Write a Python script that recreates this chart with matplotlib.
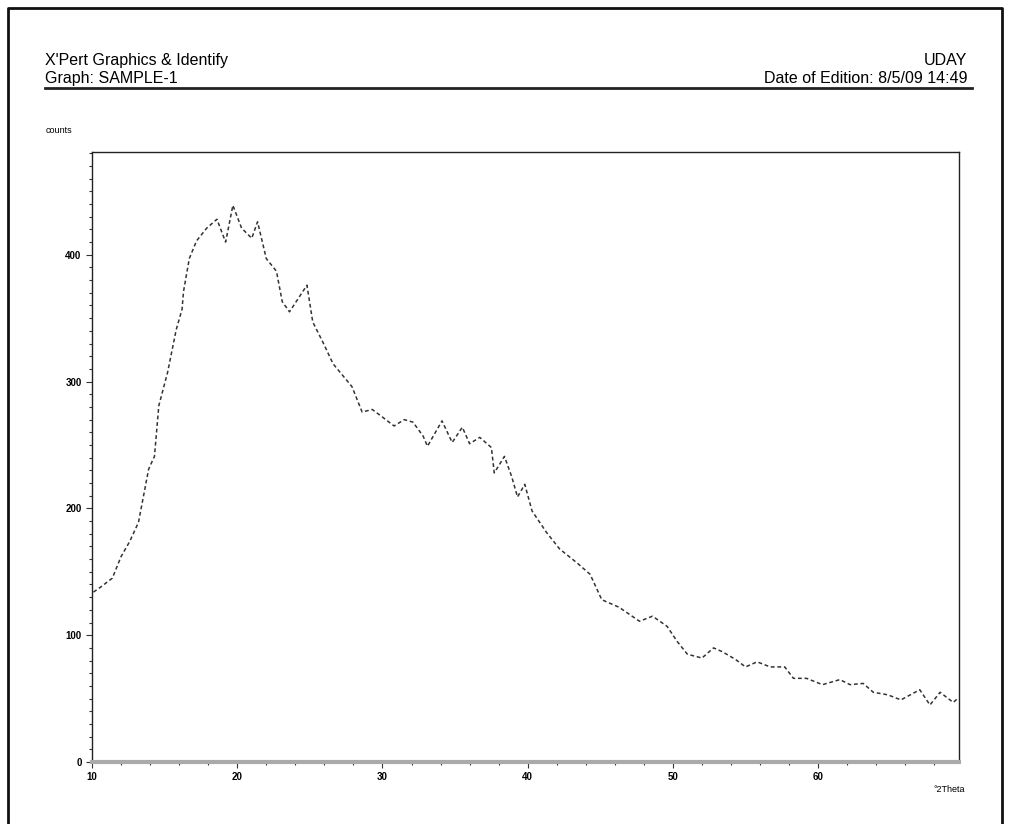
import numpy as np
import matplotlib.pyplot as plt
from matplotlib.lines import Line2D
from matplotlib.ticker import MultipleLocator

plt.rcParams['font.family'] = ['Liberation Sans', 'DejaVu Sans']

two_theta = [10.1, 10.6, 11.4, 12.0, 12.6, 13.2, 13.6, 13.9, 14.3, 14.6, 15.2,
             15.8, 16.2, 16.3, 16.7, 17.2, 17.9, 18.6, 19.2, 19.7, 20.3, 21.0,
             21.4, 22.0, 22.7, 23.1, 23.6, 24.8, 25.2, 25.9, 26.6, 27.9, 28.6,
             29.3, 30.0, 30.8, 31.5, 32.1, 32.8, 33.1, 34.1, 34.8, 35.5, 36.0,
             36.7, 37.5, 37.7, 38.4, 38.9, 39.3, 39.8, 40.3, 41.3, 42.2, 43.4,
             44.3, 45.1, 46.3, 47.7, 48.6, 49.6, 50.3, 51.0, 52.0, 52.8, 53.4,
             54.3, 55.0, 55.8, 56.7, 57.7, 58.3, 59.2, 60.3, 61.5, 62.2, 63.1,
             63.8, 64.8, 65.7, 67.0, 67.7, 68.4, 69.3, 69.6]
counts = [134, 138, 145, 162, 174, 189, 213, 231, 241, 281, 307,
          341, 357, 371, 397, 411, 421, 428, 410, 439, 421, 413,
          426, 397, 387, 363, 355, 376, 347, 331, 314, 296, 276,
          278, 272, 265, 270, 268, 257, 249, 269, 252, 264, 251,
          256, 248, 228, 241, 225, 209, 219, 198, 181, 168, 157,
          148, 128, 122, 111, 115, 107, 95, 85, 82, 90, 87,
          81, 75, 79, 75, 75, 66, 66, 61, 65, 61, 62,
          55, 53, 49, 57, 45, 55, 47, 50]

x_labels = [10, 20, 30, 40, 50, 60]
y_labels = [0, 100, 200, 300, 400]

fig = plt.figure(figsize=(10.10, 8.24), dpi=100)
ax = fig.add_axes([0.0911, 0.0752, 0.8584, 0.7403])

ax.plot(two_theta, counts, color='#333333', lw=1.1, ls=(0, (2.5, 1.8)))

ax.set_xlim(10, 69.7)
ax.set_ylim(0, 481)
ax.set_xticks(x_labels)
ax.set_yticks(y_labels)
ax.xaxis.set_minor_locator(MultipleLocator(2))
ax.yaxis.set_minor_locator(MultipleLocator(10))
ax.tick_params(which='both', direction='out', labelsize=7, width=0.8, color='#333333')
ax.tick_params(which='major', length=4)
ax.tick_params(which='minor', length=2.5)
for lbl in ax.get_xticklabels() + ax.get_yticklabels():
    lbl.set_fontweight('bold')
for s in ['left', 'top', 'right']:
    ax.spines[s].set_linewidth(1.0)
    ax.spines[s].set_color('#222222')
ax.spines['bottom'].set_linewidth(3)
ax.spines['bottom'].set_color('#aaaaaa')

# cabeçalho
fig.text(0.045, 0.918, "X'Pert Graphics & Identify", fontsize=11.5, ha='left', va='bottom')
fig.text(0.045, 0.896, "Graph: SAMPLE-1", fontsize=11.5, ha='left', va='bottom')
fig.text(0.958, 0.918, "UDAY", fontsize=11.5, ha='right', va='bottom')
fig.text(0.958, 0.896, "Date of Edition: 8/5/09 14:49", fontsize=11.5, ha='right', va='bottom')
fig.add_artist(Line2D([0.045, 0.962], [0.893, 0.893], color='#222222', lw=2))

fig.text(0.045, 0.836, "counts", fontsize=6.5, ha='left', va='bottom')
fig.text(0.955, 0.036, "°2Theta", fontsize=6.5, ha='right', va='bottom')

# moldura externa
fig.add_artist(Line2D([0.008, 0.008, 0.992, 0.992], [0.0, 0.99, 0.99, 0.0],
                      color='#111111', lw=2))

fig.savefig('out.png', dpi=100, facecolor='white')
